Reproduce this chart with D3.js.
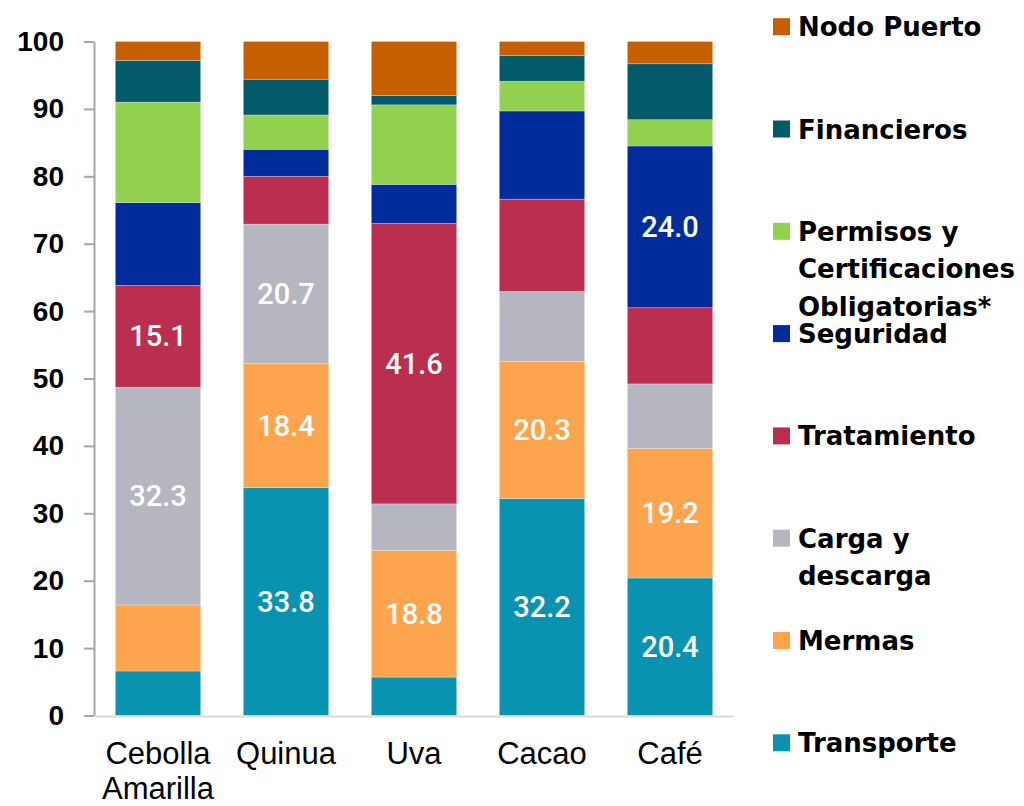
<!DOCTYPE html>
<html>
<head>
<meta charset="utf-8">
<script src="https://cdn.jsdelivr.net/npm/d3@7"></script>
<style>
  html, body { margin: 0; padding: 0; background: #fff; }
  svg { display: block; }
</style>
</head>
<body>
<div id="chart"></div>
<script>
// Categories (bottom axis), lines split on "\n"
const categories = ['Cebolla\nAmarilla', 'Quinua', 'Uva', 'Cacao', 'Café'];

// Series values per category, bottom to top of the stack
const transporte   = [6.6, 33.8, 5.7, 32.2, 20.4];
const mermas       = [9.8, 18.4, 18.8, 20.3, 19.2];
const carga        = [32.3, 20.7, 6.9, 10.4, 9.6];
const tratamiento  = [15.1, 7.1, 41.6, 13.7, 11.3];
const seguridad    = [12.3, 4.0, 5.8, 13.1, 24.0];
const permisos     = [14.9, 5.1, 11.8, 4.4, 3.9];
const financieros  = [6.2, 5.3, 1.4, 3.8, 8.3];
const nodoPuerto   = [2.8, 5.6, 8.0, 2.1, 3.3];

const seriesNames = ['Transporte', 'Mermas', 'Carga y\ndescarga', 'Tratamiento',
    'Seguridad', 'Permisos y\nCertificaciones\nObligatorias*', 'Financieros', 'Nodo Puerto'];
const seriesValues = [transporte, mermas, carga, tratamiento, seguridad, permisos, financieros, nodoPuerto];
const seriesColors = ['#0A93B1', '#FDA54E', '#B6B6C0', '#BA2E50', '#002D9B', '#92D050', '#045A68', '#C65F02'];

const yTicks = [0, 10, 20, 30, 40, 50, 60, 70, 80, 90, 100];
const labelMin = 15;

const width = 1024, height = 806;

const svg = d3.select('#chart')
    .append('svg')
    .attr('width', width)
    .attr('height', height);

const x = d3.scaleBand()
    .domain(categories)
    .range([94, 734])
    .paddingInner(1 / 3)
    .paddingOuter(1 / 6);

const y = d3.scaleLinear()
    .domain([0, 100])
    .range([715.5, 41.5]);

// build rows for d3.stack
const keys = seriesNames;
const rows = categories.map((c, i) => {
    const row = { category: c };
    keys.forEach((k, j) => { row[k] = seriesValues[j][i]; });
    return row;
});
const stacked = d3.stack().keys(keys)(rows);

const color = d3.scaleOrdinal().domain(keys).range(seriesColors);

// Bars
const layers = svg.append('g')
    .selectAll('g')
    .data(stacked)
    .enter()
    .append('g')
    .attr('fill', d => color(d.key));

layers.selectAll('rect')
    .data(d => d)
    .enter()
    .append('rect')
    .attr('x', d => x(d.data.category))
    .attr('y', d => y(d[1]))
    .attr('width', x.bandwidth())
    .attr('height', d => y(d[0]) - y(d[1]))
    .attr('stroke', 'rgba(255,255,255,0.35)')
    .attr('stroke-width', 0.75);

// Value labels inside the larger segments
layers.selectAll('text')
    .data(d => d.filter(s => s[1] - s[0] >= labelMin))
    .enter()
    .append('text')
    .attr('x', d => x(d.data.category) + x.bandwidth() / 2)
    .attr('y', d => (y(d[0]) + y(d[1])) / 2)
    .attr('text-anchor', 'middle')
    .attr('dominant-baseline', 'central')
    .attr('fill', '#fff')
    .style('font-family', 'Roboto, sans-serif')
    .style('font-size', '29px')
    .style('font-weight', 500)
    .text(d => (d[1] - d[0]).toFixed(1));

// Y axis
const yAxis = svg.append('g')
    .attr('transform', 'translate(94,0)')
    .call(d3.axisLeft(y).tickValues(yTicks).tickSize(10).tickSizeOuter(0).tickPadding(20));

yAxis.select('.domain').attr('stroke', '#A6A6A6').attr('stroke-width', 2);
yAxis.selectAll('.tick line').attr('stroke', '#A6A6A6').attr('stroke-width', 2);
yAxis.selectAll('.tick text')
    .attr('fill', '#000')
    .style('font-family', '"Liberation Sans", Arial, sans-serif')
    .style('font-size', '28px')
    .style('font-weight', 'bold');

// Bottom baseline
svg.append('line')
    .attr('x1', 95)
    .attr('x2', 734)
    .attr('y1', y(0) + 1)
    .attr('y2', y(0) + 1)
    .attr('stroke', '#D9D9D9')
    .attr('stroke-width', 2);

// Category labels
svg.append('g')
    .selectAll('text')
    .data(categories)
    .enter()
    .append('text')
    .attr('text-anchor', 'middle')
    .style('font-family', '"Liberation Sans", Arial, sans-serif')
    .style('font-size', '31px')
    .attr('fill', '#000')
    .each(function(c) {
        const t = d3.select(this);
        c.split('\n').forEach((line, i) => {
            t.append('tspan')
                .attr('x', x(c) + x.bandwidth() / 2)
                .attr('y', 764 + i * 35)
                .text(line);
        });
    });

// Legend, top item is the top of the stack
const legendKeys = keys.slice().reverse();
const legend = svg.append('g')
    .selectAll('g')
    .data(legendKeys)
    .enter()
    .append('g')
    .attr('transform', (d, i) => `translate(773,${26.7 + i * 102.3})`);

legend.append('rect')
    .attr('x', 0)
    .attr('y', -8.5)
    .attr('width', 17)
    .attr('height', 17)
    .attr('fill', d => color(d));

legend.append('text')
    .style('font-family', '"DejaVu Sans", sans-serif')
    .style('font-size', '26px')
    .style('font-weight', 'bold')
    .attr('fill', '#000')
    .each(function(k) {
        const t = d3.select(this);
        k.split('\n').forEach((line, i) => {
            t.append('tspan')
                .attr('x', 25)
                .attr('y', 9.5 + i * 37.5)
                .text(line);
        });
    });
</script>
</body>
</html>
